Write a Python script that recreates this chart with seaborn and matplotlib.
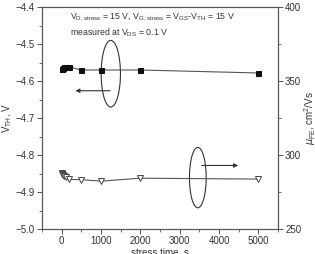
import matplotlib
matplotlib.use("Agg")
import matplotlib.pyplot as plt
import seaborn as sns
from matplotlib.patches import Ellipse
from matplotlib.ticker import MultipleLocator

sns.set_style("ticks")
plt.rcParams['font.family'] = ['Liberation Sans', 'DejaVu Sans']
plt.rcParams['mathtext.fontset'] = 'custom'
plt.rcParams['mathtext.rm'] = 'Liberation Sans'

# data
stress_time = [0, 10, 30, 60, 100, 200, 500, 1000, 2000, 5000]
vth = [-4.568, -4.566, -4.564, -4.563, -4.562, -4.562, -4.570, -4.570, -4.570, -4.578]
mu_fe = [287.8, 287.0, 286.3, 285.6, 285.0, 283.6, 283.4, 282.4, 284.4, 283.8]

C = '#333333'
fig = plt.figure(figsize=(3.15, 2.54), dpi=100)
ax = fig.add_axes([0.133, 0.098, 0.75, 0.874])
ax2 = ax.twinx()

sns.lineplot(x=stress_time, y=vth, ax=ax, color='#555555', lw=0.8, marker='s',
             markersize=3.6, markerfacecolor='#111111', markeredgecolor='#111111')
sns.lineplot(x=stress_time, y=mu_fe, ax=ax2, color='#555555', lw=0.8, marker='v',
             markersize=4.0, markerfacecolor='white', markeredgecolor='#444444', markeredgewidth=0.7)

ax.set_xlim(-500, 5500)
ax.set_ylim(-5.0, -4.4)
ax2.set_ylim(250, 400)
ax.set_xticks([0, 1000, 2000, 3000, 4000, 5000])
ax.xaxis.set_minor_locator(MultipleLocator(500))
ax.set_yticks([-5.0, -4.9, -4.8, -4.7, -4.6, -4.5, -4.4])
ax.set_yticklabels(['\u22125.0', '\u22124.9', '\u22124.8', '\u22124.7', '\u22124.6', '\u22124.5', '\u22124.4'])
ax.yaxis.set_minor_locator(MultipleLocator(0.05))
ax2.set_yticks([250, 300, 350, 400])
ax2.yaxis.set_minor_locator(MultipleLocator(25))

for a in (ax, ax2):
    a.tick_params(which='major', direction='out', length=3.5, width=0.7, color='#555555',
                  labelsize=7, labelcolor=C, pad=1.5)
    a.tick_params(which='minor', direction='out', length=2, width=0.6, color='#555555')
    for s in a.spines.values():
        s.set_color('#555555')
        s.set_linewidth(0.8)
    a.spines['top'].set_visible(True)
    a.spines['right'].set_visible(True)

ax.set_xlabel('stress time, s', fontsize=7, color=C, labelpad=1)
ax.set_ylabel(r'V$_{\rm TH}$, V', fontsize=7, color=C, labelpad=1)
ax2.set_ylabel(r'$\mu_{\rm FE}$, cm$^2$/Vs', fontsize=7, color=C, labelpad=1)

ax.text(0.12, 0.955, r'V$_{\rm D,stress}$ = 15 V, V$_{\rm G,stress}$ = V$_{\rm GS}$-V$_{\rm TH}$ = 15 V',
        transform=ax.transAxes, fontsize=6.3, color=C, va='center', ha='left')
ax.text(0.12, 0.883, r'measured at V$_{\rm DS}$ = 0.1 V',
        transform=ax.transAxes, fontsize=6.3, color=C, va='center', ha='left')

ax.add_patch(Ellipse((1250, -4.580), 490, 0.18, fill=False, edgecolor='#333333', lw=0.8))
ax2.add_patch(Ellipse((3460, 284.8), 425, 40.8, fill=False, edgecolor='#333333', lw=0.8))
ax.annotate('', xy=(280, -4.626), xytext=(1300, -4.626),
            arrowprops=dict(arrowstyle='-|>', color='#333333', lw=0.8, mutation_scale=6))
ax2.annotate('', xy=(4555, 293), xytext=(3490, 293),
             arrowprops=dict(arrowstyle='-|>', color='#333333', lw=0.8, mutation_scale=6))

fig.savefig('out.png', dpi=100)
